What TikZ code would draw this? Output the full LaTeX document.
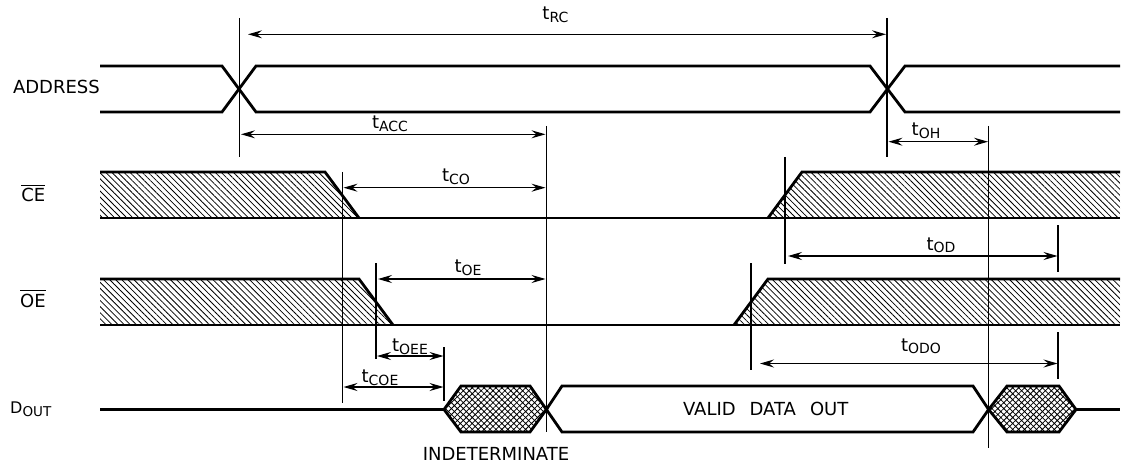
\documentclass[tikz,border=0pt]{standalone}
\usepackage{fontspec}
\setmainfont{DejaVu Sans}
\usetikzlibrary{patterns.meta,arrows.meta}
\newcommand{\tlab}[1]{t\raisebox{-2.6pt}{\fontsize{14}{14}\selectfont #1}}
\newcommand{\ovl}[1]{\vbox{\hrule height 0.9pt\kern 2.6pt\hbox{#1}}}
\begin{document}
\begin{tikzpicture}[x=1pt,y=-1pt,
  sig/.style={line width=2.8pt, line join=miter},
  guide/.style={line width=1.1pt},
  tip/.tip={Stealth[length=14pt,width=8pt,inset=5pt]},
  dim/.style={line width=1.1pt, tip-tip},
  hatchfill/.style={pattern={Lines[angle=-45,distance=4.3pt,line width=0.8pt]}},
  xhatch/.style={pattern={Hatch[angle=45,distance=4.2pt,line width=0.8pt]}},
  lbl/.style={inner sep=0pt, anchor=base, font=\fontsize{18}{20}\selectfont}
]
\fill[white] (0,0) rectangle (1122,468);
\useasboundingbox (0,0) rectangle (1122,468);

% hatched regions
\fill[hatchfill] (100,172) -- (325,172) -- (359,218) -- (100,218) -- cycle;
\fill[hatchfill] (768,218) -- (802,172) -- (1120,172) -- (1120,218) -- cycle;
\fill[hatchfill] (100,279) -- (359,279) -- (393,325) -- (100,325) -- cycle;
\fill[hatchfill] (734,325) -- (768,279) -- (1120,279) -- (1120,325) -- cycle;

% guide lines
\draw[guide] (239.5,18) -- (239.5,157);
\draw[guide] (887,18) -- (887,157);
\draw[guide] (546.4,126) -- (546.4,432);
\draw[guide] (342.5,172) -- (342.5,403);
\draw[guide] (376,263) -- (376,359);
\draw[guide] (444,347) -- (444,401);
\draw[guide] (988.6,126) -- (988.6,448);
\draw[guide] (785,157) -- (785,264);
\draw[guide] (751,263) -- (751,370);
\draw[guide] (1058,225) -- (1058,272);
\draw[guide] (1058,332) -- (1058,379);

% ADDRESS
\draw[sig] (100,66) -- (222,66) -- (256,112) -- (870,112) -- (905,66) -- (1120,66);
\draw[sig] (100,112) -- (222,112) -- (256,66) -- (870,66) -- (905,112) -- (1120,112);
% CE
\draw[sig] (100,172) -- (325,172) -- (359,218);
\draw[sig] (100,218) -- (1120,218);
\draw[sig] (768,218) -- (802,172) -- (1120,172);
% OE
\draw[sig] (100,279) -- (359,279) -- (393,325);
\draw[sig] (100,325) -- (1120,325);
\draw[sig] (734,325) -- (768,279) -- (1120,279);
% DOUT
\draw[sig] (100,409.5) -- (444,409.5);
\draw[sig, xhatch] (444,409.5) -- (461,386) -- (530,386) -- (546.4,409.5) -- (530,432) -- (461,432) -- cycle;
\draw[sig] (546.4,409.5) -- (562,386) -- (973,386) -- (988.6,409.5) -- (973,432) -- (562,432) -- cycle;
\draw[sig, xhatch] (988.6,409.5) -- (1007,386) -- (1059,386) -- (1076,409.5) -- (1059,432) -- (1007,432) -- cycle;
\draw[sig] (1076,409.5) -- (1120,409.5);

% dimension arrows
\draw[dim] (248,34.3) -- (886,34.3);
\draw[dim] (241,134.3) -- (545.5,134.3);
\draw[dim] (343.5,187.7) -- (545.5,187.7);
\draw[dim] (888.5,141.7) -- (988,141.7);
\draw[dim] (378,279) -- (545.5,279);
\draw[dim] (377,356) -- (443.5,356);
\draw[dim] (343.5,387) -- (443.5,387);
\draw[dim] (788,256) -- (1057.5,256);
\draw[dim] (760,363.5) -- (1057.5,363.5);

% labels
\node[lbl] (trc) at (555.4,20) {\tlab{RC}};
\node[lbl] (tacc) at (390,129) {\tlab{ACC}};
\node[lbl] (tco) at (456,181.5) {\tlab{CO}};
\node[lbl] (toh) at (926,135.5) {\tlab{OH}};
\node[lbl] (toe) at (468,272.5) {\tlab{OE}};
\node[lbl] (toee) at (410,351.5) {\tlab{OEE}};
\node[lbl] (tcoe) at (380,382.5) {\tlab{COE}};
\node[lbl] (tod) at (941,250) {\tlab{OD}};
\node[lbl] (todo) at (921,351) {\tlab{ODO}};

\node[lbl] (addr) at (56.4,93.3) {ADDRESS};
\node[lbl] (ce) at (33.4,201.7) {\ovl{CE}};
\node[lbl] (oe) at (33,307.3) {\ovl{OE}};
\node[lbl, anchor=base west] (dout) at (10,413.5) {{\fontsize{16}{16}\selectfont D}\raisebox{-3.2pt}{\fontsize{13.5}{13.5}\selectfont OUT}};
\node[lbl] (valid) at (765.7,415) {VALID\hspace{14pt}DATA\hspace{14pt}OUT};
\node[lbl] (indet) at (496,460) {INDETERMINATE};
\end{tikzpicture}
\end{document}
